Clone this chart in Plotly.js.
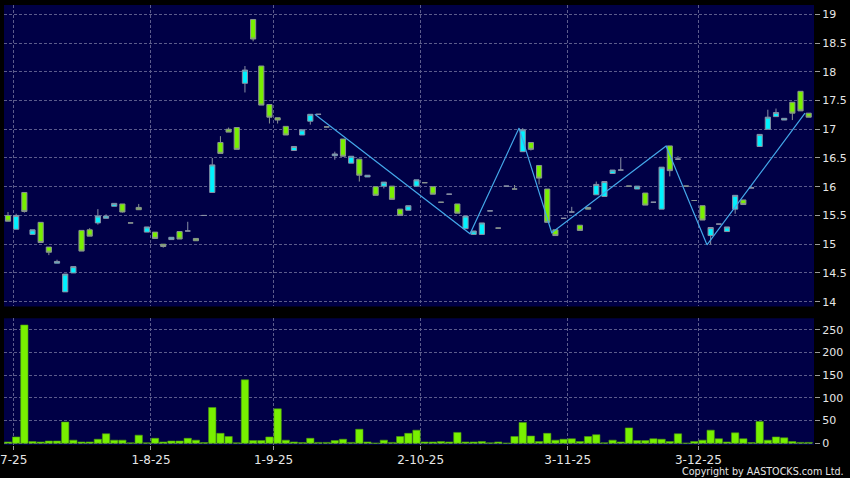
<!DOCTYPE html>
<html>
<head>
<meta charset="utf-8">
<script src="https://cdn.plot.ly/plotly-3.0.1.min.js"></script>
<style>
html,body{margin:0;padding:0;background:#000;}
#chart{width:850px;height:478px;}
</style>
</head>
<body>
<div id="chart"></div>
<script>
// Trading-session index (days without trades are skipped, as in the source chart)
const openP  = [15.50,15.26,15.90,15.17,15.38,14.95,14.67,14.17,14.50,15.24,
                15.25,15.37,15.45,15.66,15.70,15.37,15.64,15.21,15.21,15.00,
                15.08,15.22,15.23,15.10,15.50,15.90,16.77,17.00,17.03,17.80,
                18.91,18.10,17.43,17.20,17.05,16.63,16.90,17.14,17.26,17.04,
                16.54,16.83,16.41,16.48,16.17,16.00,16.01,16.01,15.61,15.59,
                16.01,16.07,16.00,15.73,15.87,15.70,15.27,15.17,15.17,15.58,
                15.28,16.01,15.96,16.61,16.77,16.37,15.96,15.25,15.45,15.56,
                15.33,15.64,15.86,15.83,16.23,16.29,16.01,15.96,15.89,15.73,
                15.61,16.71,16.48,16.01,15.76,15.67,15.15,15.35,15.22,15.61,
                15.77,15.98,16.70,17.00,17.22,17.16,17.47,17.66,17.28];
const highP  = [15.56,15.53,15.90,15.25,15.38,14.95,14.73,14.48,14.61,15.24,
                15.28,15.61,15.52,15.71,15.70,15.37,15.70,15.30,15.21,15.00,
                15.12,15.22,15.39,15.10,15.50,16.50,16.88,17.03,17.03,18.10,
                18.91,18.10,17.43,17.20,17.05,16.70,16.99,17.26,17.26,17.04,
                16.61,16.83,16.53,16.48,16.20,16.00,16.08,16.01,15.61,15.67,
                16.12,16.07,16.00,15.73,15.87,15.70,15.49,15.23,15.37,15.58,
                15.28,16.01,16.03,17.02,16.77,16.37,15.96,15.25,15.45,15.65,
                15.33,15.64,16.09,16.09,16.29,16.50,16.01,16.01,15.89,15.73,
                16.34,16.71,16.53,16.01,15.76,15.67,15.29,15.35,15.30,15.85,
                15.77,15.98,16.91,17.34,17.36,17.19,17.47,17.66,17.28];
const lowP   = [15.40,15.26,15.55,15.17,15.03,14.81,14.67,14.17,14.50,14.88,
                15.14,15.34,15.45,15.66,15.55,15.37,15.60,15.21,15.10,14.94,
                15.08,15.09,15.23,15.06,15.50,15.90,16.58,16.95,16.65,17.64,
                18.53,17.42,17.10,17.10,16.90,16.63,16.90,17.08,17.26,17.04,
                16.47,16.53,16.41,16.09,16.17,15.85,15.97,15.78,15.50,15.59,
                16.01,16.07,15.87,15.73,15.87,15.54,15.27,15.17,15.17,15.58,
                15.28,16.01,15.96,16.61,16.63,16.04,15.38,15.15,15.45,15.56,
                15.24,15.61,15.86,15.83,16.23,16.29,16.01,15.96,15.68,15.73,
                15.61,16.18,16.48,16.01,15.76,15.42,14.99,15.35,15.22,15.53,
                15.69,15.98,16.70,17.00,17.22,17.16,17.16,17.32,17.21];
const closeP = [15.40,15.50,15.57,15.25,15.03,14.86,14.70,14.48,14.61,14.88,
                15.14,15.49,15.49,15.71,15.56,15.37,15.60,15.30,15.10,14.96,
                15.12,15.09,15.23,15.06,15.50,16.38,16.58,16.95,16.65,18.03,
                18.57,17.42,17.21,17.16,16.90,16.70,16.99,17.26,17.26,17.04,
                16.57,16.53,16.53,16.20,16.20,15.85,16.08,15.78,15.50,15.67,
                16.12,16.07,15.87,15.73,15.87,15.54,15.49,15.23,15.37,15.58,
                15.28,16.01,15.96,16.99,16.65,16.15,15.38,15.15,15.45,15.56,
                15.24,15.61,16.04,16.09,16.29,16.29,16.01,16.01,15.68,15.73,
                16.34,16.28,16.48,16.01,15.76,15.42,15.29,15.35,15.30,15.85,
                15.69,15.98,16.91,17.21,17.29,17.19,17.28,17.32,17.21];
const volume = [3,14,261,4,3,5,5,47,7,3,
                3,9,21,7,7,1,18,1,11,3,
                5,5,11,7,1.5,79,22,15,1,140,
                6,6,14,76,7,3,1.5,11,2,2,
                6,9,2,31,3,0.5,7,2,15,22,
                29,3,3,4,3,24,3,3,4,1,
                3,0.5,15,46,16,4,22,7,9,10,
                4,15,19,1,7,3,34,6,6,10,
                9,4,21,0.5,4,7,29,10,3,23,
                10,1.5,48,7,14,12,4,2,2];
// Zig-zag swing points (session index, price)
const swingIdx   = [38, 57, 63, 67, 81, 86, 98];
const swingPrice = [17.26, 15.18, 17.02, 15.20, 16.71, 14.99, 17.28];
// Month ticks
const monthTickPos    = [0.7, 17.5, 32.5, 50.5, 68.5, 84.5];
const monthTickLabels = ["7-25", "1-8-25", "1-9-25", "2-10-25", "3-11-25", "3-12-25"];
const priceTicks  = [14,14.5,15,15.5,16,16.5,17,17.5,18,18.5,19];
const volumeTicks = [0,50,100,150,200,250];

const idx = openP.map((_, i) => i);

const GRID = "#5c5c8c";
const FONT = {family: "DejaVu Sans, Verdana, sans-serif", size: 11, color: "#e6e6e6"};

const traces = [
  {
    type: "candlestick", x: idx, open: openP, high: highP, low: lowP, close: closeP,
    xaxis: "x", yaxis: "y",
    increasing: {line: {color: "#8890a4", width: 1}, fillcolor: "#00f2ff"},
    decreasing: {line: {color: "#8a9490", width: 1}, fillcolor: "#78f000"},
    whiskerwidth: 0, hoverinfo: "none", showlegend: false
  },
  {
    type: "scatter", mode: "lines",
    x: swingIdx.map(v => v - 0.45), y: swingPrice,
    xaxis: "x", yaxis: "y",
    line: {color: "#43a6e8", width: 1.2}, hoverinfo: "none", showlegend: false
  },
  {
    type: "bar", x: idx, y: volume, xaxis: "x", yaxis: "y2",
    marker: {color: "#78f000", line: {color: "#4c9a10", width: 0.6}},
    hoverinfo: "none", showlegend: false
  }
];

const layout = {
  width: 850, height: 478,
  margin: {l: 4, r: 36, t: 5, b: 33},
  paper_bgcolor: "#000000",
  plot_bgcolor: "#000046",
  font: FONT,
  showlegend: false,
  boxgap: 0.1,
  bargap: 0.1,
  xaxis: {
    anchor: "y2", range: [-0.49, 98.65],
    tickmode: "array", tickvals: monthTickPos, ticktext: monthTickLabels,
    showgrid: true, gridcolor: GRID, griddash: "3px,2px", gridwidth: 1,
    ticks: "outside", ticklen: 4, tickcolor: "#9a9a9a",
    tickfont: {family: FONT.family, size: 12, color: "#e6e6e6"},
    ticklabeloverflow: "allow",
    zeroline: false, showline: false,
    rangeslider: {visible: false}, fixedrange: true
  },
  yaxis: {
    domain: [0.3148, 1], side: "right", anchor: "x",
    range: [13.916, 19.162],
    tickmode: "array", tickvals: priceTicks,
    ticktext: priceTicks.map(v => String(v)),
    showgrid: true, gridcolor: GRID, griddash: "3px,2px", gridwidth: 1,
    ticks: "outside", ticklen: 5, tickcolor: "#9a9a9a",
    tickfont: FONT, zeroline: false, showline: false, fixedrange: true
  },
  yaxis2: {
    domain: [0, 0.288], side: "right", anchor: "x",
    range: [-3.75, 275.8],
    tickmode: "array", tickvals: volumeTicks,
    showgrid: true, gridcolor: GRID, griddash: "3px,2px", gridwidth: 1,
    ticks: "outside", ticklen: 5, tickcolor: "#9a9a9a",
    tickfont: FONT, zeroline: false, showline: false, fixedrange: true
  },
  annotations: [{
    text: "Copyright by AASTOCKS.com Ltd.",
    xref: "paper", yref: "paper", x: 1.0395, y: -0.06,
    xanchor: "right", yanchor: "middle", showarrow: false,
    font: {family: FONT.family, size: 9.6, color: "#e6e6e6"}
  }]
};

Plotly.newPlot("chart", traces, layout, {staticPlot: true, displayModeBar: false});
</script>
</body>
</html>
